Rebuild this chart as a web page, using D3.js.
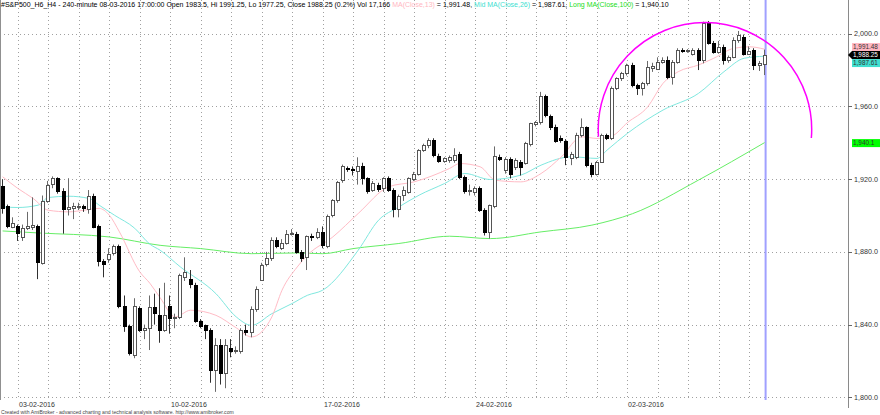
<!DOCTYPE html>
<html><head><meta charset="utf-8">
<script src="https://cdn.jsdelivr.net/npm/d3@7/dist/d3.min.js"></script>
<style>
html,body{margin:0;padding:0;background:#fff}
svg{display:block;font-family:"Liberation Sans",Arial,sans-serif}
</style>
</head><body>
<svg id="chart" width="880" height="415"></svg>
<script>
// ---------- DATA ----------
const opens = [1916,1905,1894,1894,1888,1893,1893.5,1894,1874,1908,
1917,1920.5,1913.5,1903.5,1904,1905,1905,1904,1911,1894,
1875,1876,1879,1883,1850,1839,1823,1849,1837,1838,
1849.5,1845.5,1837.5,1850,1843.5,1844,1866,1865,1862,1842,
1839.5,1837,1815,1829,1813.5,1827,1825.5,1825.5,1837,1836,
1848.5,1865,1873,1876.5,1886.5,1882,1885,1890,1890,1880,
1877,1888.5,1888,1891,1883.7,1900,1908.5,1919.5,1926,1925.5,
1924,1927,1920.5,1914,1917,1915,1920.5,1914,1904,1911,
1913,1920.5,1923,1936,1939,1941.5,1933,1930,1930.5,1931,
1934,1921.3,1913.6,1913,1915,1903,1891,1905.7,1932.3,1925,
1931,1926.8,1929.5,1928.6,1939.3,1950.3,1951.5,1965.7,1954.7,1948.8,
1942.4,1941,1932,1932.3,1944.3,1948.5,1928,1922.8,1929.5,1944.3,
1942.4,1970,1975.4,1978.2,1982.8,1971.7,1970,1972.7,1981,1981,
1984.6,1985.5,1976.3,1984.6,1991,1990.5,1989,1991,1985.5,2005.7,
1994.7,1990,1992.8,1985.5,1987.3,1996.5,1998.4,1989.2,1991,1982.8,
1983.5];
const highs = [1920,1906,1899,1895,1895,1902,1910,1895,1911,1919,
1921.5,1921,1915,1920.5,1907,1907,1906,1914,1912,1895,
1876,1882,1884,1884,1856,1840,1854.5,1850,1840,1856,
1857,1860,1863,1856,1846,1868,1877,1870,1863,1843,
1840,1838,1832.5,1832,1832,1832,1828,1838,1840,1850,
1861,1874,1880,1888,1888,1887,1892,1892.5,1891,1881,
1889,1890,1893,1894,1900.5,1909,1919,1928,1927,1927,
1932,1929,1921,1919,1918,1921,1921.5,1915,1911.5,1916,
1921,1924,1936.5,1939.5,1942.5,1942.5,1934,1932,1933,1937,
1935,1922,1917,1916,1916,1904,1906,1938,1933.5,1932,
1932,1931.5,1930.5,1940.5,1951,1952,1968,1966.5,1955.5,1950,
1944,1942,1935,1945.5,1953.4,1949,1929,1930,1945,1945,
1971,1976,1979,1983.5,1984,1972.5,1973.5,1985,1984,1987,
1987,1987.5,1985.5,1992,1992,1991.5,1992,1992,2006.6,2007,
1996,1996,1994,1988,1998,2001.5,1999.5,1993,1992,1985,
1991.25];
const lows = [1901,1893,1893,1886,1886,1892,1892,1865,1873,1907,
1915,1912,1890,1900,1898,1903,1902,1901,1893,1872,
1866,1874,1878,1849,1836,1823,1821.5,1836,1832,1826,
1840,1830,1836,1835,1838,1843,1864,1860,1841,1838,
1832,1808,1803,1807,1805,1822,1824,1824,1834,1833,
1847,1864,1872,1875,1882,1881,1884,1889,1879,1874.5,
1870,1886,1887,1882,1882,1899,1907,1918,1924,1922,
1917,1917,1912,1913,1913,1913,1913,1899,1899,1908,
1912,1919,1922,1935,1937,1932,1929,1929,1929,1929,
1920,1912,1911,1911,1902,1889,1887.3,1904,1930,1923,
1920.4,1925,1922,1928,1938,1949,1950,1954,1947,1940,
1940,1927.7,1927.7,1931,1943,1926.5,1921,1922,1929,1941.5,
1941.5,1969,1974,1977,1970.5,1966.3,1966,1971.5,1979,1980,
1983.5,1975,1972,1983.5,1989.5,1989.5,1988,1980,1983.7,1994,
1989,1989,1983,1984,1986.5,1995,1988,1988.5,1980,1979.5,
1977.25];
const closes = [1904,1894,1896,1890,1893,1894,1894.5,1874,1908,1917,
1920.5,1913.5,1903.5,1904.5,1905,1905.5,1904,1911,1894,1875,
1873.5,1879,1883,1850,1839,1824,1850,1837,1838,1849.5,
1846,1837.5,1845.5,1843.5,1844,1867,1869,1862,1842,1839.5,
1837,1815,1829,1813.5,1829,1825.5,1826,1837,1836,1848.5,
1859.5,1873,1876.5,1886.5,1883,1885,1890,1890.5,1880,1876.5,
1888.5,1888,1891,1883.7,1900,1908.5,1918.5,1927,1925.5,1925,
1927,1920.5,1913.5,1918,1915,1920.5,1914,1903.5,1911,1914,
1920.5,1923,1936,1939,1941.5,1933,1930,1931.5,1932,1933.5,
1921.3,1913.6,1914,1915,1903,1891,1905.7,1933,1931.4,1931,
1922.8,1930.5,1926.8,1939.7,1950.7,1951.5,1965.7,1955.2,1948.8,1941,
1941.5,1932,1934,1944.3,1948.5,1927.7,1922.8,1929.5,1944.3,1942.4,
1970,1975.4,1978.2,1982.8,1971.7,1970,1972.7,1981.5,1982.2,1984.6,
1985.5,1976.3,1984.6,1991,1990.5,1990.8,1991.2,1985.5,2005.7,1994.7,
1990,1992.8,1985.5,1987.3,1996.5,1999.3,1989.2,1990.6,1982.8,1983.7,
1988.25];

// moving averages, read at sampled bars: [bar index, value]
const shortMA = [[0,1921.3],[3,1914.9],[6,1909.4],[9,1902.9],[13,1902],[16,1902.9],[19,1903.9],[21,1900.2],[23,1891],[27,1869],[29,1862.7],[31,1854.8],[34,1844.2],[37,1847.9],[42,1845.1],[46,1838.2],[49,1833.2],[53,1844.2],[55,1858.9],[58,1871.7],[60,1878.2],[65,1888.2],[70,1901.1],[76,1915.8],[81,1918.5],[88,1925.9],[90,1928.6],[94,1926.8],[97,1919.4],[102,1918.5],[106,1923.1],[110,1932.3],[114,1943.3],[117,1942.4],[120,1943.8],[123,1951.1],[127,1959.8],[130,1972.7],[133,1979.1],[137,1982.8],[140,1986.5],[144,1992],[147,1992.8],[150,1991.48]];
const midMA = [[0,1904.7],[3,1904.4],[7,1905.7],[9,1909.9],[13,1910.6],[17,1909.4],[19,1905.7],[22,1900.2],[26,1893],[29,1884.2],[31,1880.9],[35,1871.7],[42,1857],[46,1844.2],[49,1839.6],[53,1846],[57,1851.6],[60,1856.1],[63,1858.9],[70,1880.9],[74,1897.4],[78,1904.7],[82,1911.2],[87,1917.6],[91,1923.1],[96,1919.8],[102,1922.2],[106,1927.7],[112,1932.3],[117,1931.4],[119,1936],[123,1945.2],[130,1958],[137,1967.2],[142,1979.1],[146,1986.5],[150,1987.61]];
const longMA = [[0,1891.5],[7,1890.4],[21,1888.2],[31,1883.6],[39,1881.8],[49,1879],[58,1879.4],[63,1879],[69,1881.8],[78,1884.6],[88,1888.6],[96,1887.3],[106,1891],[116,1894.7],[124,1901],[137,1919.5],[150,1940.1]];

// day separators (first bar of each day) and weekly date labels
const dayStartBars = [3,9,15,21,27,33,39,45,51,57,63,69,75,81,87,93,99,105,111,117,123,129,135,141,147];
const dateLabelBars = [3,33,63,93,123];
const dateLabels = ["03-02-2016","10-02-2016","17-02-2016","24-02-2016","02-03-2016"];
const yTicks = [1800,1840,1880,1920,1960,2000];
// hand-drawn arc study: three points [bar, price]
const arcPoints = [[117.3,1943.3],[137.9,2006.1],[159.2,1942.6]];
const lastBar = 150;
const symbol = "#S&P500_H6_H4 - 240-minute 08-03-2016 17:00:00";
const volumeText = "17,166";
const changeText = "(0.2%)";
const footerText = "Created with AmiBroker - advanced charting and technical analysis software. http://www.amibroker.com";

// ---------- LAYOUT ----------
const W = 880, H = 415;
const plotRight = 848, plotBottom = 400;
const cPink = "#ffb6c1", cTurq = "#40e0d0", cGreen = "#00ff00";
const lPink = "#ffbcc6", lTurq = "#7fe8df", lGreen = "#66ee66";

const svg = d3.select("#chart");
const x = d3.scaleLinear().domain([0, 150]).range([2.6, 764.6]);
const y = d3.scaleLinear().domain([1800, 2000]).range([397.3, 33.7]);

// grid
const grid = svg.append("g");
grid.selectAll("line.h").data(yTicks).join("line")
  .attr("x1", 0).attr("x2", plotRight)
  .attr("y1", d => Math.round(y(d)) + 0.5).attr("y2", d => Math.round(y(d)) + 0.5)
  .attr("stroke", "#a0a0a0").attr("stroke-width", 1).attr("stroke-dasharray", "1,3");
grid.selectAll("line.v").data(dayStartBars).join("line")
  .attr("x1", d => Math.round(x(d)) + 0.5).attr("x2", d => Math.round(x(d)) + 0.5)
  .attr("y1", 0).attr("y2", plotBottom)
  .attr("stroke", "#a0a0a0").attr("stroke-width", 1).attr("stroke-dasharray", "1,3");

// left border
svg.append("line").attr("x1", 0.5).attr("x2", 0.5).attr("y1", 0).attr("y2", plotBottom)
  .attr("stroke", "#909090");

// selected bar marker
svg.append("line").attr("x1", x(lastBar) + 1).attr("x2", x(lastBar) + 1)
  .attr("y1", 0).attr("y2", plotBottom)
  .attr("stroke", "#a0a0ff").attr("stroke-width", 2);

// moving averages
const line = d3.line().x(d => x(d[0])).y(d => y(d[1])).curve(d3.curveMonotoneX);
svg.append("path").attr("d", line(longMA)).attr("fill", "none").attr("stroke", lGreen).attr("stroke-width", 1);
svg.append("path").attr("d", line(midMA)).attr("fill", "none").attr("stroke", lTurq).attr("stroke-width", 1);
svg.append("path").attr("d", line(shortMA)).attr("fill", "none").attr("stroke", lPink).attr("stroke-width", 1);

// candles
const bars = d3.range(opens.length);
const cg = svg.append("g");
cg.selectAll("line.w").data(bars).join("line")
  .attr("x1", i => Math.round(x(i)) - 0.5).attr("x2", i => Math.round(x(i)) - 0.5)
  .attr("y1", i => y(highs[i])).attr("y2", i => y(lows[i]))
  .attr("stroke", i => closes[i] >= opens[i] ? "#6a6a6a" : "#303030").attr("stroke-width", 1);
cg.selectAll("rect").data(bars).join("rect")
  .attr("x", i => Math.round(x(i)) - 1.5)
  .attr("width", 3)
  .attr("y", i => Math.round(y(Math.max(opens[i], closes[i]))) + 0.5)
  .attr("height", i => Math.max(1, Math.round(Math.abs(y(opens[i]) - y(closes[i])))))
  .attr("fill", i => closes[i] >= opens[i] ? "#fff" : "#000")
  .attr("stroke", i => closes[i] >= opens[i] ? "#555" : "#000")
  .attr("stroke-width", 1);

// arc study (circle through three points in screen space)
(function () {
  const p = arcPoints.map(d => [x(d[0]), y(d[1])]);
  const [ax, ay] = p[0], [bx, by] = p[1], [qx, qy] = p[2];
  const dd = 2 * (ax * (by - qy) + bx * (qy - ay) + qx * (ay - by));
  const ux = ((ax*ax + ay*ay) * (by - qy) + (bx*bx + by*by) * (qy - ay) + (qx*qx + qy*qy) * (ay - by)) / dd;
  const uy = ((ax*ax + ay*ay) * (qx - bx) + (bx*bx + by*by) * (ax - qx) + (qx*qx + qy*qy) * (bx - ax)) / dd;
  const r = Math.hypot(ax - ux, ay - uy);
  const a0 = Math.atan2(ay - uy, ax - ux);
  let a1 = Math.atan2(qy - uy, qx - ux);
  while (a1 < a0) a1 += 2 * Math.PI;
  const pth = d3.path();
  pth.arc(ux, uy, r, a0, a1, false);
  svg.append("path").attr("d", pth.toString()).attr("fill", "none")
    .attr("stroke", "#ff00ff").attr("stroke-width", 1.5);
})();

// right axis
svg.append("rect").attr("x", plotRight + 1).attr("y", 0).attr("width", W - plotRight).attr("height", H).attr("fill", "#fff");
svg.append("line").attr("x1", plotRight + 0.5).attr("x2", plotRight + 0.5).attr("y1", 0).attr("y2", 408)
  .attr("stroke", "#8a8a8a");
const ax = svg.append("g");
ax.selectAll("line").data(yTicks).join("line")
  .attr("x1", plotRight).attr("x2", plotRight + 4)
  .attr("y1", d => Math.round(y(d)) + 0.5).attr("y2", d => Math.round(y(d)) + 0.5)
  .attr("stroke", "#666");
const fmtAxis = d3.format(",.1f");
ax.selectAll("text").data(yTicks).join("text")
  .attr("x", plotRight + 6).attr("y", d => y(d)).attr("dy", "0.35em")
  .attr("font-size", 7.2).attr("fill", "#333").text(d => fmtAxis(d));

// value boxes on the axis
const closeVal = closes[lastBar];
const sVal = shortMA[shortMA.length - 1][1], mVal = midMA[midMA.length - 1][1], lVal = longMA[longMA.length - 1][1];
const fmt2 = d3.format(",.2f");
const boxH = 8;
let yClose = y(closeVal);
let ySh = Math.min(y(sVal), yClose - boxH);
let yMid = Math.max(y(mVal), yClose + boxH);
let yLong = y(lVal);
function valueBox(cy, bg, fg, txt, arrow) {
  const g = svg.append("g");
  if (arrow) {
    g.append("path").attr("d", `M${plotRight},${cy} L${plotRight+4},${cy-boxH/2} L${W},${cy-boxH/2} L${W},${cy+boxH/2} L${plotRight+4},${cy+boxH/2} Z`).attr("fill", bg);
  } else {
    g.append("rect").attr("x", plotRight + 4).attr("y", cy - boxH / 2).attr("width", W - plotRight - 4).attr("height", boxH).attr("fill", bg);
  }
  g.append("text").attr("x", plotRight + 5).attr("y", cy).attr("dy", "0.35em")
    .attr("font-size", 6.4).attr("fill", fg).text(txt);
}
valueBox(ySh, cPink, "#333", fmt2(sVal), false);
valueBox(yMid, cTurq, "#333", fmt2(mVal), false);
valueBox(yClose, "#000", "#fff", fmt2(closeVal), true);
valueBox(yLong + 0.5, cGreen, "#333", d3.format(",.1f")(lVal), false);

// date labels
svg.selectAll("text.date").data(dateLabelBars).join("text")
  .attr("class", "date")
  .attr("x", d => Math.round(x(d)) + 1).attr("y", 407)
  .attr("font-size", 7).attr("fill", "#333")
  .text((d, i) => dateLabels[i]);

// footer
svg.append("text").attr("x", 1).attr("y", 414).attr("font-size", 5.1).attr("fill", "#444").text(footerText);

// title
const fmtP = d => String(d);
const segs = [
  {t: `${symbol} Open ${fmtP(opens[lastBar])}, Hi ${fmtP(highs[lastBar])}, Lo ${fmtP(lows[lastBar])}, Close ${fmtP(closeVal)} ${changeText} Vol ${volumeText} `, c: "#000"},
  {t: "MA(Close,13)", c: cPink},
  {t: ` = ${fmt2(sVal)}, `, c: "#000"},
  {t: "Mid MA(Close,26)", c: cTurq},
  {t: ` = ${fmt2(mVal)}, `, c: "#000"},
  {t: "Long MA(Close,100)", c: "#22dd22"},
  {t: ` = ${fmt2(lVal)}`, c: "#000"}
];
const title = svg.append("text").attr("x", 1).attr("y", 7).attr("font-size", 7).attr("xml:space", "preserve");
segs.forEach(s => title.append("tspan").attr("fill", s.c).text(s.t));
</script>
</body></html>
